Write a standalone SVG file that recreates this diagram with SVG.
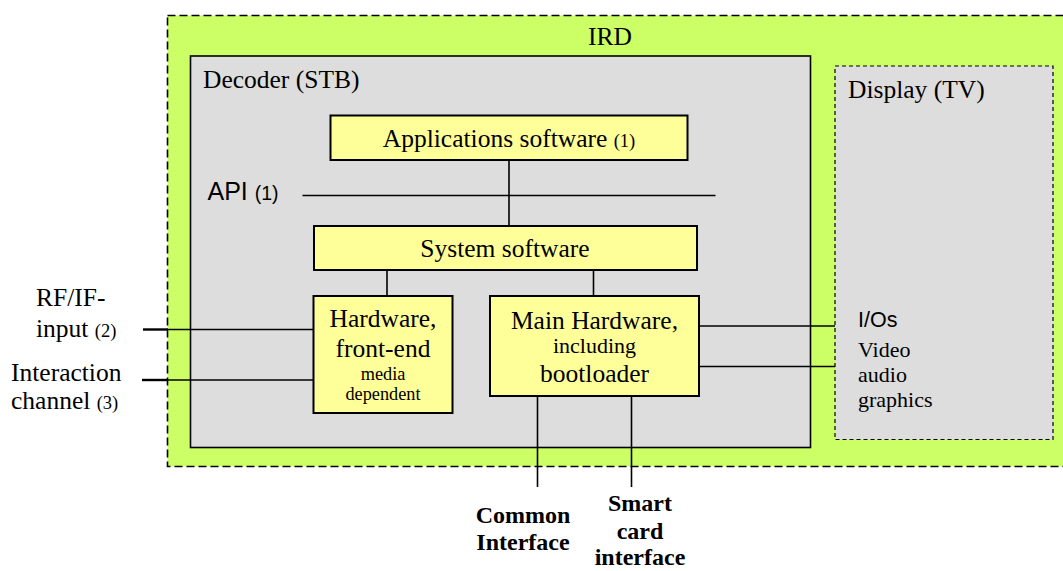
<svg xmlns="http://www.w3.org/2000/svg" width="1063" height="571" viewBox="0 0 1063 571">
<style>
.s{font-family:"Liberation Serif","Times New Roman",serif;fill:#000;font-size:25.5px}
.a{font-family:"Liberation Sans",Arial,sans-serif;fill:#000}
.sm{font-size:18.5px}
.mid{font-size:22px}
.tiny{font-size:18.3px}
.b{font-weight:bold;font-size:24px}
.box{fill:#FFFF99;stroke:#000;stroke-width:2}
.ln{stroke:#000;stroke-width:1.6;fill:none}
.c{text-anchor:middle}
</style>
<rect width="1063" height="571" fill="#fff"/>
<g id="ird">
<rect x="167.5" y="15.5" width="910" height="451" fill="#CCFF66" stroke="#000" stroke-width="1.6" stroke-dasharray="8,4"/>
<text class="s" x="588" y="45">IRD</text>
</g>
<g id="decoder">
<rect x="190.5" y="56" width="620" height="391.5" fill="#DDDDDD" stroke="#000" stroke-width="1.6"/>
<text class="s" x="203" y="87.5">Decoder (STB)</text>
</g>
<g id="display">
<rect x="835" y="66" width="218" height="373.5" fill="#DDDDDD" stroke="#000" stroke-width="1.2" stroke-dasharray="4,3"/>
<text class="s" x="848" y="98">Display (TV)</text>
<text class="a" x="858" y="326.5" font-size="21.5">I/Os</text>
<text class="s mid" x="858" y="356.5">Video</text>
<text class="s mid" x="858" y="381.5">audio</text>
<text class="s mid" x="858" y="407">graphics</text>
</g>
<g id="connectors">
<line class="ln" x1="302.5" y1="195.5" x2="715.5" y2="195.5"/>
<line class="ln" x1="509" y1="160" x2="509" y2="226"/>
<line class="ln" x1="387" y1="270" x2="387" y2="296"/>
<line class="ln" x1="593.5" y1="270" x2="593.5" y2="296"/>
<line class="ln" x1="167" y1="329.5" x2="313.5" y2="329.5"/>
<line x1="143" y1="329.5" x2="168" y2="329.5" stroke="#000" stroke-width="2.4"/>
<line class="ln" x1="167" y1="380" x2="313.5" y2="380"/>
<line x1="142" y1="380" x2="168" y2="380" stroke="#000" stroke-width="2.4"/>
<line class="ln" x1="699" y1="326" x2="835" y2="326"/>
<line class="ln" x1="699" y1="366.5" x2="835" y2="366.5"/>
<line class="ln" x1="537.5" y1="396" x2="537.5" y2="487"/>
<line class="ln" x1="631.5" y1="396" x2="631.5" y2="487"/>
</g>
<g id="apps">
<rect class="box" x="330.5" y="115.5" width="357" height="44.5"/>
<text class="s c" x="509" y="147">Applications software <tspan class="sm">(1)</tspan></text>
</g>
<g id="api">
<text class="a" x="207.5" y="199.5" font-size="25">API <tspan font-size="19.5">(1)</tspan></text>
</g>
<g id="system">
<rect class="box" x="314" y="226" width="383" height="44"/>
<text class="s c" x="505" y="257">System software</text>
</g>
<g id="frontend">
<rect class="box" x="313.5" y="296" width="139" height="117"/>
<text class="s c" x="383" y="327">Hardware,</text>
<text class="s c" x="383" y="357">front-end</text>
<text class="s c tiny" x="383" y="379.5">media</text>
<text class="s c tiny" x="383" y="400">dependent</text>
</g>
<g id="mainhw">
<rect class="box" x="490" y="296" width="209" height="100"/>
<text class="s c" x="594.5" y="329">Main Hardware,</text>
<text class="s c mid" x="594.5" y="353">including</text>
<text class="s c" x="594.5" y="381.5">bootloader</text>
</g>
<g id="rf">
<text class="s" x="36" y="306">RF/IF-</text>
<text class="s" x="36" y="337">input <tspan class="sm">(2)</tspan></text>
</g>
<g id="interaction">
<text class="s" x="11" y="381">Interaction</text>
<text class="s" x="11" y="409">channel <tspan class="sm">(3)</tspan></text>
</g>
<g id="ci">
<text class="s c b" x="523" y="522.5">Common</text>
<text class="s c b" x="523" y="550">Interface</text>
</g>
<g id="sc">
<text class="s c b" x="640" y="511">Smart</text>
<text class="s c b" x="640" y="539">card</text>
<text class="s c b" x="640" y="565">interface</text>
</g>
</svg>
